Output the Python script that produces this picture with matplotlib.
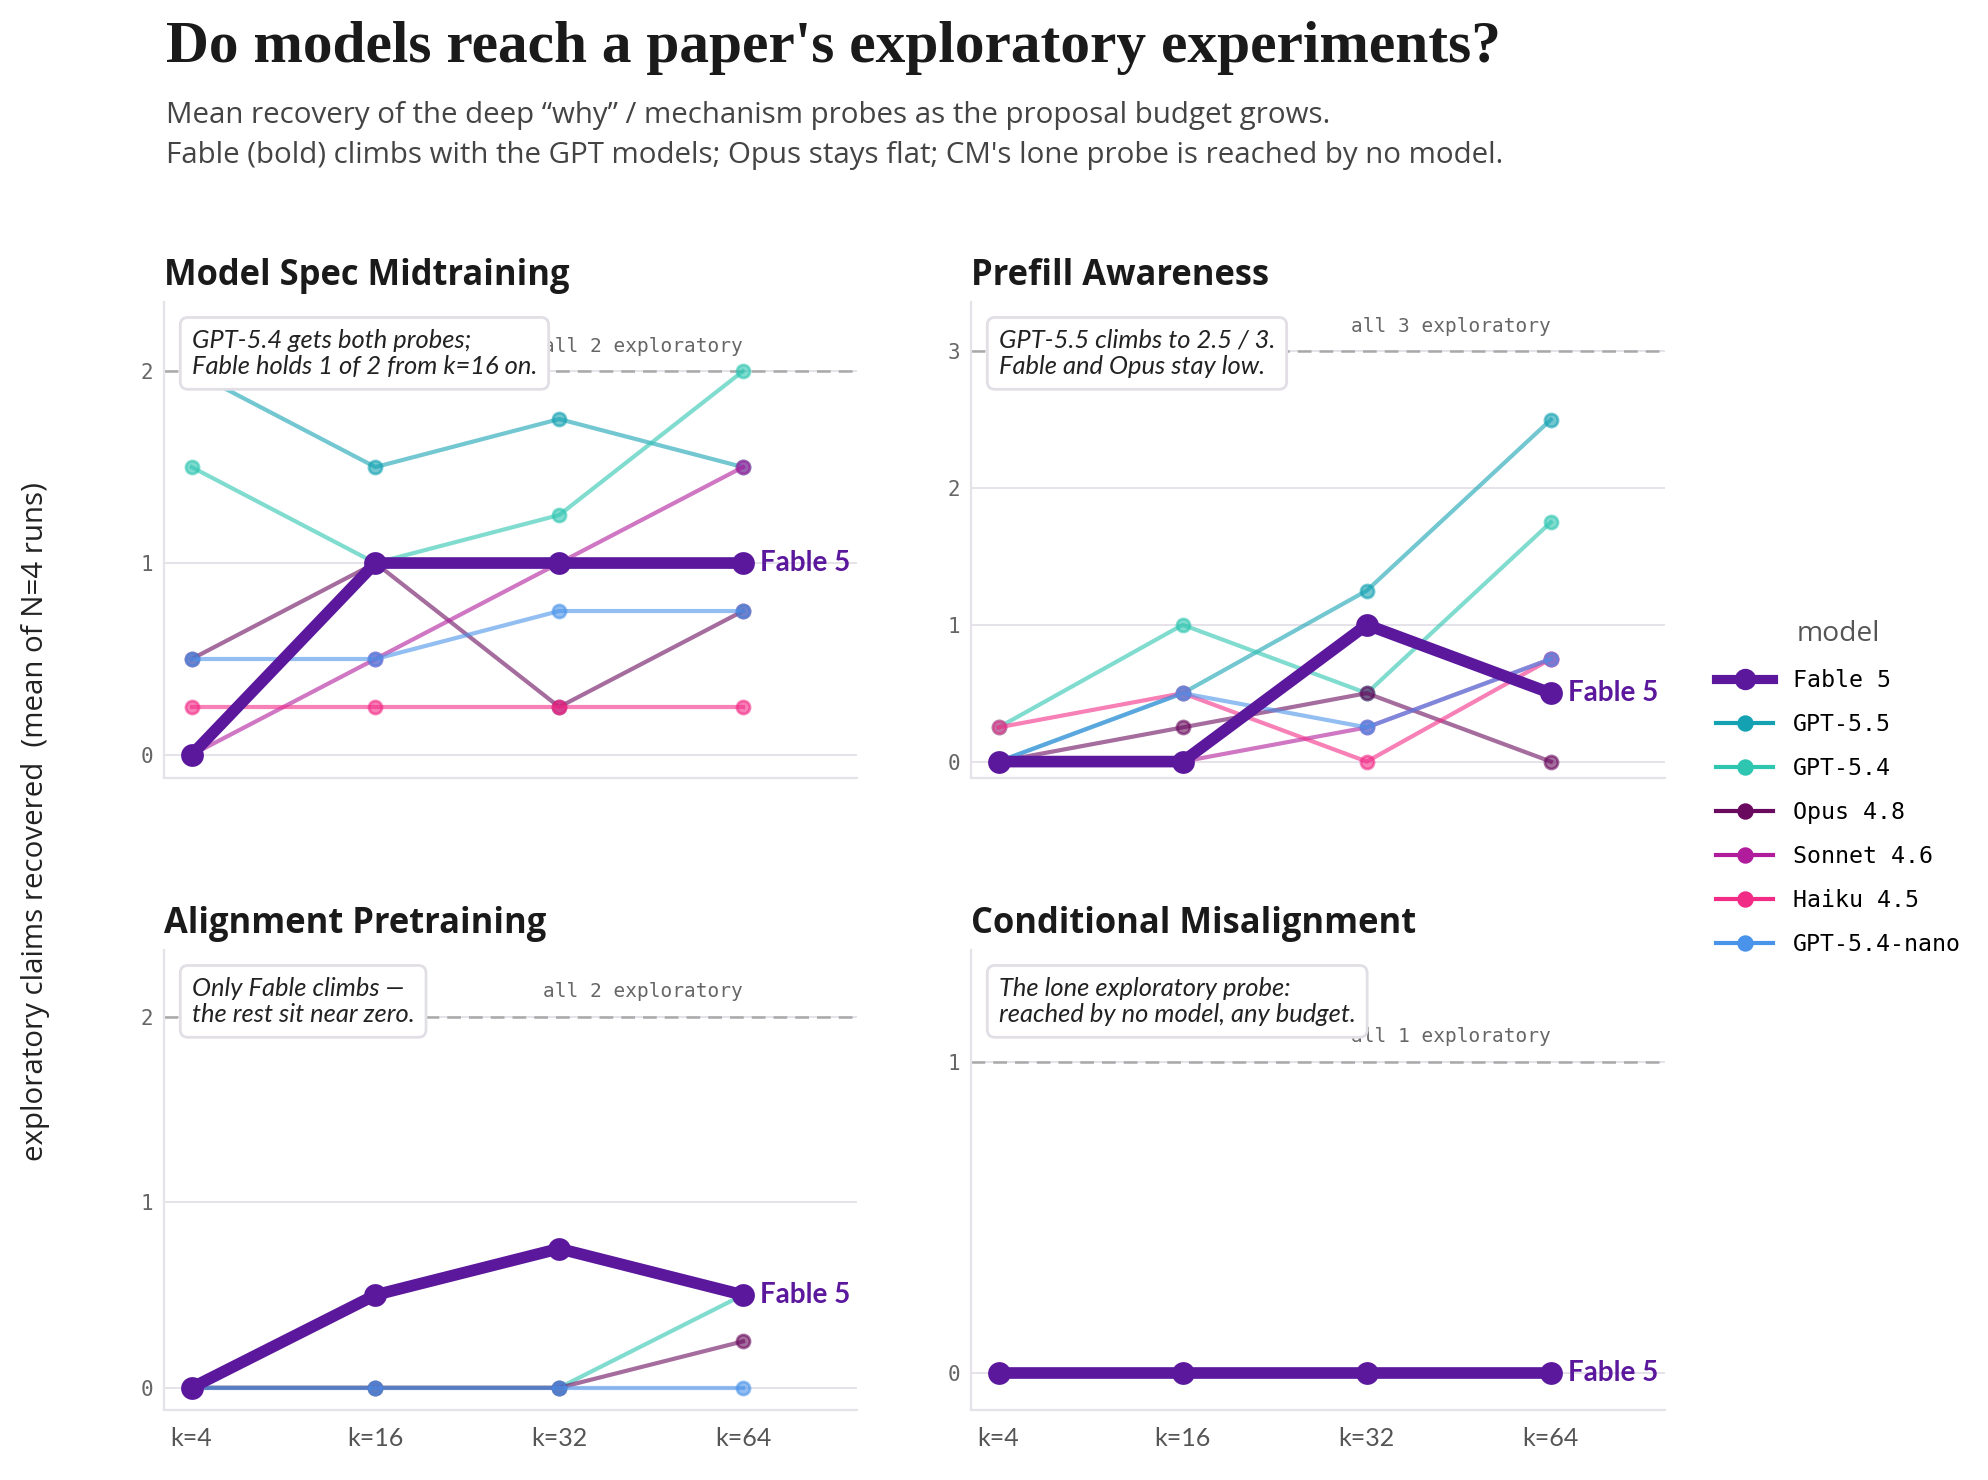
import matplotlib
matplotlib.use("Agg")
import matplotlib.pyplot as plt
from matplotlib.lines import Line2D

# ---------------- data ----------------
budgets = ["k=4", "k=16", "k=32", "k=64"]
models = ["Fable 5", "GPT-5.5", "GPT-5.4", "Opus 4.8", "Sonnet 4.6", "Haiku 4.5", "GPT-5.4-nano"]
colors = ["#5b189c", "#14a2b2", "#2ec5b1", "#6a0a5e", "#b11c9d", "#f22b87", "#4a93ea"]

panels = ["Model Spec Midtraining", "Prefill Awareness", "Alignment Pretraining", "Conditional Misalignment"]
n_probes = [2, 3, 2, 1]
notes = [
    "GPT-5.4 gets both probes;\nFable holds 1 of 2 from k=16 on.",
    "GPT-5.5 climbs to 2.5 / 3.\nFable and Opus stay low.",
    "Only Fable climbs —\nthe rest sit near zero.",
    "The lone exploratory probe:\nreached by no model, any budget.",
]

# None = model not shown for that paper
msm = {
    "Fable 5":      [0.0, 1.0, 1.0, 1.0],
    "GPT-5.5":      [2.0, 1.5, 1.75, 1.5],
    "GPT-5.4":      [1.5, 1.0, 1.25, 2.0],
    "Opus 4.8":     [0.5, 1.0, 0.25, 0.75],
    "Sonnet 4.6":   [0.0, 0.5, 1.0, 1.5],
    "Haiku 4.5":    [0.25, 0.25, 0.25, 0.25],
    "GPT-5.4-nano": [0.5, 0.5, 0.75, 0.75],
}
prefill = {
    "Fable 5":      [0.0, 0.0, 1.0, 0.5],
    "GPT-5.5":      [0.0, 0.5, 1.25, 2.5],
    "GPT-5.4":      [0.25, 1.0, 0.5, 1.75],
    "Opus 4.8":     [0.0, 0.25, 0.5, 0.0],
    "Sonnet 4.6":   [0.0, 0.0, 0.25, 0.75],
    "Haiku 4.5":    [0.25, 0.5, 0.0, 0.75],
    "GPT-5.4-nano": [0.0, 0.5, 0.25, 0.75],
}
align_pre = {
    "Fable 5":      [0.0, 0.5, 0.75, 0.5],
    "GPT-5.5":      None,
    "GPT-5.4":      [0.0, 0.0, 0.0, 0.5],
    "Opus 4.8":     [0.0, 0.0, 0.0, 0.25],
    "Sonnet 4.6":   None,
    "Haiku 4.5":    None,
    "GPT-5.4-nano": [0.0, 0.0, 0.0, 0.0],
}
cond_mis = {
    "Fable 5":      [0.0, 0.0, 0.0, 0.0],
    "GPT-5.5":      [0.0, 0.0, 0.0, 0.0],
    "GPT-5.4":      [0.0, 0.0, 0.0, 0.0],
    "Opus 4.8":     [0.0, 0.0, 0.0, 0.0],
    "Sonnet 4.6":   [0.0, 0.0, 0.0, 0.0],
    "Haiku 4.5":    [0.0, 0.0, 0.0, 0.0],
    "GPT-5.4-nano": [0.0, 0.0, 0.0, 0.0],
}
panel_data = [msm, prefill, align_pre, cond_mis]

# ---------------- style ----------------
SANS = ["Lato", "DejaVu Sans"]
SANS2 = ["Open Sans", "DejaVu Sans"]
MONO = ["DejaVu Sans Mono"]
SERIF = ["Liberation Serif", "DejaVu Serif"]
plt.rcParams["font.family"] = SANS

W, H = 1988, 1480
fig = plt.figure(figsize=(W / 200, H / 200), dpi=200)

def rect(x0, y0, x1, y1):
    return [x0 / W, 1 - y1 / H, (x1 - x0) / W, (y1 - y0) / H]

rects = [
    rect(164, 302, 857, 778),
    rect(971, 302, 1665, 778),
    rect(164, 950, 857, 1410),
    rect(971, 950, 1665, 1410),
]

GRID = "#e6e2ea"
x = list(range(len(budgets)))

for i, (name, data, n, note) in enumerate(zip(panels, panel_data, n_probes, notes)):
    ax = fig.add_axes(rects[i])
    ax.set_xlim(-0.15, 3.62)
    ax.set_ylim(-0.12, n + 0.36)
    ax.set_yticks(range(0, n + 1))
    ax.set_xticks(x)
    if i >= 2:
        ax.set_xticklabels(budgets, fontsize=9, color="#555555", family=SANS)
    else:
        ax.set_xticklabels([])
    for lab in ax.get_yticklabels():
        lab.set_family(MONO)
        lab.set_fontsize(7.5)
        lab.set_color("#666666")
    ax.tick_params(axis="both", length=0)
    ax.tick_params(axis="y", pad=4)
    ax.tick_params(axis="x", pad=6)
    for s in ["top", "right"]:
        ax.spines[s].set_visible(False)
    for s in ["left", "bottom"]:
        ax.spines[s].set_color(GRID)
        ax.spines[s].set_linewidth(0.8)
    ax.grid(axis="y", color=GRID, linewidth=0.7)
    ax.set_axisbelow(True)

    ax.axhline(n, color="#a9a9a9", linewidth=0.9, dashes=(5.5, 3.2), zorder=1)
    ax.annotate(f"all {n} exploratory", xy=(3, n), xytext=(0, 7), textcoords="offset points",
                ha="right", va="baseline", family=MONO, fontsize=7, color="#666666", zorder=2)

    for m, c in zip(models, colors):
        vals = data[m]
        if m == "Fable 5" or vals is None:
            continue
        ax.plot(x, vals, color=c, alpha=0.6, linewidth=1.5, marker="o", markersize=4.7,
                zorder=3)
    fv = data["Fable 5"]
    ax.plot(x, fv, color=colors[0], linewidth=4.2, marker="o", markersize=7.2, zorder=5,
            solid_capstyle="round")
    ax.annotate("Fable 5", xy=(3, fv[-1]), xytext=(6, 0), textcoords="offset points",
                ha="left", va="center", fontsize=10, fontweight="bold", color=colors[0],
                family=SANS, zorder=6)

    ax.set_title(name, loc="left", fontsize=12.45, fontweight="bold", color="#1a1a1a", pad=6,
                 family=SANS2)

    ax.annotate(note, xy=(0, 1), xycoords="axes fraction", xytext=(10, -9.7),
                textcoords="offset points", ha="left", va="top", fontsize=9.2,
                style="italic", color="#222222", linespacing=1.15, zorder=10,
                bbox=dict(boxstyle="round,pad=0.45,rounding_size=0.3", fc="white",
                          ec="#e2dee6", lw=1.0))

# titles
fig.text(166 / W, 1 - 62 / H, "Do models reach a paper's exploratory experiments?",
         family=SERIF, fontweight="bold", fontsize=21.4, color="#1a1a1a", va="baseline", ha="left")
fig.text(166 / W, 1 - 123 / H,
         "Mean recovery of the deep \u201cwhy\u201d / mechanism probes as the proposal budget grows.",
         fontsize=10.65, color="#444444", va="baseline", ha="left", family=SANS2)
fig.text(166 / W, 1 - 163 / H,
         "Fable (bold) climbs with the GPT models; Opus stays flat; CM's lone probe is reached by no model.",
         fontsize=10.65, color="#444444", va="baseline", ha="left", family=SANS2)

fig.text(36 / W, 1 - 822 / H, "exploratory claims recovered  (mean of N=4 runs)",
         rotation=90, ha="center", va="center", fontsize=10.65, color="#222222", family=SANS2)

# legend
handles = []
for m, c in zip(models, colors):
    if m == "Fable 5":
        handles.append(Line2D([], [], color=c, linewidth=3.3, marker="o", markersize=6.7))
    else:
        handles.append(Line2D([], [], color=c, linewidth=1.5, marker="o", markersize=4.9))
leg = fig.legend(handles, models, loc="upper left", bbox_to_anchor=(1695 / W, 1 - 599 / H),
                 frameon=False, prop={"family": MONO, "size": 8.4}, handlelength=2.45,
                 handletextpad=0.85, labelspacing=0.9, title="model",
                 title_fontproperties={"family": SANS2, "size": 10.2})
leg.get_title().set_color("#555555")

fig.savefig("out.png", dpi=200)
